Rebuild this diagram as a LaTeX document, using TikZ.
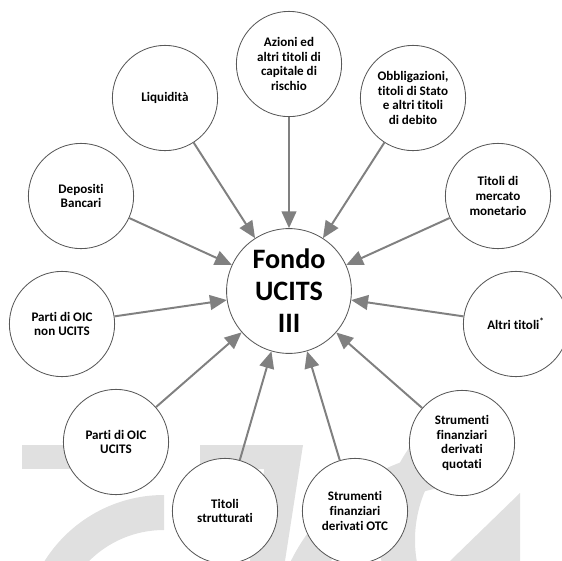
\documentclass[tikz,border=0pt]{standalone}
\usepackage{fontspec}
\setmainfont{Carlito}[Ligatures=NoCommon]
\usetikzlibrary{arrows.meta,positioning}

\begin{document}
\begin{tikzpicture}
    [x=0.025cm, y=-0.025cm,
    voce/.style={
        draw=black!65,
        line width=0.6pt,
        fill=white,
        circle,
        inner sep=0pt,
        minimum size=2.63cm,
        align=center,
        font=\fontsize{9.3}{10.4}\selectfont\bfseries
    },
    centro/.style={
        voce,
        minimum size=3.12cm,
        font=\fontsize{20}{22.7}\selectfont\bfseries
    },
    arrow/.style={>={Triangle[length=12pt,width=10.5pt]},->,draw=black!50,fill=black!50,line width=1.4pt},
    filigrana/.style={fill=black!12}]

    \useasboundingbox (0,0) rectangle (562,561);

    %%% filigrana
    \begin{scope}
        \clip (0,0) rectangle (562,561);
        \fill[filigrana] (22,445) rectangle (155,469);
        \begin{scope}
            \clip (0,440) rectangle (164,561);
            \fill[filigrana,even odd rule] (164,636) circle[radius=141] (164,636) circle[radius=106];
        \end{scope}
        \fill[filigrana] (200,445) -- (303,445) -- (289,469) -- (200,469) -- cycle;
        \fill[filigrana] (303,445) -- (268,445) -- (250,561) -- (285,561) -- cycle;
        \begin{scope}
            \clip (200,440) rectangle (440,561);
            \fill[filigrana,even odd rule] (470,650) circle[radius=200] (470,650) circle[radius=165];
        \end{scope}
        \begin{scope}
            \clip (300,440) rectangle (450,561);
            \fill[filigrana,even odd rule] (540,540) circle[radius=160] (540,540) circle[radius=125];
        \end{scope}
        \fill[filigrana] (520,493) -- (520,561) -- (450,561) -- cycle;
    \end{scope}

    %%% content
    \node (fondoUcits) [centro] at (289,291) {Fondo\\UCITS\\III};

    \node (azioni) [voce] at (289,64) {Azioni ed\\altri titoli di\\capitale di\\rischio};
    \node (obbligazioni) [voce] at (413,98) {Obbligazioni,\\titoli di Stato\\e altri titoli\\di debito};
    \node (monetario) [voce] at (498,196) {Titoli di\\mercato\\monetario};
    \node (altriTitoli) [voce] at (516,324) {Altri titoli\textsuperscript{*}};
    \node (derivatiQuotati) [voce] at (462,443) {Strumenti\\finanziari\\derivati\\quotati};
    \node (derivatiOtc) [voce] at (355,511) {Strumenti\\finanziari\\derivati OTC};
    \node (strutturati) [voce] at (225,511) {Titoli\\strutturati};
    \node (oicUcits) [voce] at (116,442) {Parti di OIC\\UCITS};
    \node (oicNonUcits) [voce] at (62,324) {Parti di OIC\\non UCITS};
    \node (depositi) [voce] at (81,196) {Depositi\\Bancari};
    \node (liquidita) [voce] at (165,98) {Liquidità};

    %% lines
    \draw[arrow] (azioni) -- (fondoUcits);
    \draw[arrow] (obbligazioni) -- (fondoUcits);
    \draw[arrow] (monetario) -- (fondoUcits);
    \draw[arrow] (altriTitoli) -- (fondoUcits);
    \draw[arrow] (derivatiQuotati) -- (fondoUcits);
    \draw[arrow] (derivatiOtc) -- (fondoUcits);
    \draw[arrow] (strutturati) -- (fondoUcits);
    \draw[arrow] (oicUcits) -- (fondoUcits);
    \draw[arrow] (oicNonUcits) -- (fondoUcits);
    \draw[arrow] (depositi) -- (fondoUcits);
    \draw[arrow] (liquidita) -- (fondoUcits);
\end{tikzpicture}
\end{document}
